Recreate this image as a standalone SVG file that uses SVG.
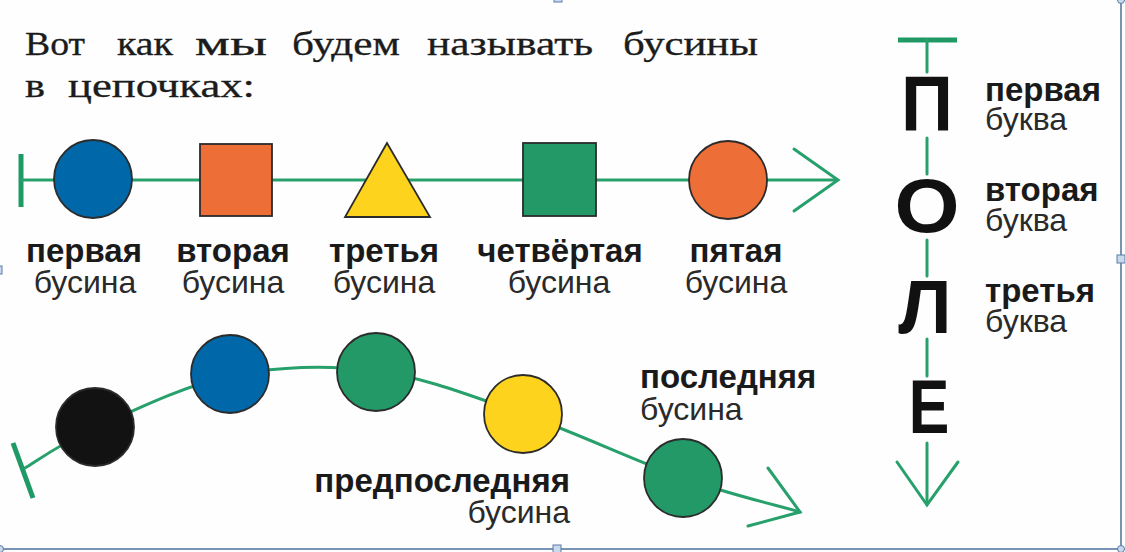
<svg xmlns="http://www.w3.org/2000/svg" width="1125" height="552" viewBox="0 0 1125 552">
<style>
.title{font-family:"Liberation Serif","Times New Roman",serif;font-size:33px;fill:#1c1c1c;stroke:#1c1c1c;stroke-width:0.3}
.b{font-family:"Liberation Sans",Arial,sans-serif;font-size:33px;font-weight:bold;fill:#1a1a1a}
.r{font-family:"Liberation Sans",Arial,sans-serif;font-size:32px;fill:#2a2a2a}
.big{font-family:"Liberation Sans",Arial,sans-serif;font-size:76px;font-weight:bold;fill:#111}
.ln{fill:none;stroke:#27a06c;stroke-width:3;stroke-linecap:round}
.tick{fill:none;stroke:#1f9a66;stroke-width:5}
.bead{stroke:#2b2b2b;stroke-width:1.8}
.frame{stroke:#4d6f9c;stroke-width:1.5;fill:none}
.hd{fill:#c9d8ea;stroke:#5a7aa5;stroke-width:1}
</style>
<rect width="1125" height="552" fill="#fefefe"/>

<g id="title">
<text class="title" x="25" y="55" textLength="60" lengthAdjust="spacingAndGlyphs">Вот</text>
<text class="title" x="117" y="55" textLength="56" lengthAdjust="spacingAndGlyphs">как</text>
<text class="title" x="195" y="55" textLength="72" lengthAdjust="spacingAndGlyphs">мы</text>
<text class="title" x="292" y="55" textLength="108" lengthAdjust="spacingAndGlyphs">будем</text>
<text class="title" x="427" y="55" textLength="166" lengthAdjust="spacingAndGlyphs">называть</text>
<text class="title" x="623" y="55" textLength="135" lengthAdjust="spacingAndGlyphs">бусины</text>
<text class="title" x="25" y="97" textLength="20" lengthAdjust="spacingAndGlyphs">в</text>
<text class="title" x="68" y="97" textLength="187" lengthAdjust="spacingAndGlyphs">цепочках:</text>
</g>

<g id="connectors">
<!-- top chain -->
<line class="tick" x1="21" y1="154" x2="21" y2="207"/>
<line class="ln" x1="21" y1="180" x2="837" y2="180"/>
<polyline class="ln" points="794,149 838,180 794,211"/>
<!-- bottom chain -->
<line class="tick" x1="13" y1="443" x2="33" y2="498"/>
<path class="ln" d="M25,468 C36.7,461 60.8,443.3 95,428 C129.2,412.7 183.2,385.5 230,376 C276.8,366.5 327.2,364.7 376,371 C424.8,377.3 471.8,396.2 523,414 C574.2,431.8 636.8,461.7 683,478 C729.2,494.3 780.5,506.3 800,512"/>
<polyline class="ln" points="768,468 800,512 748,526"/>
<!-- vertical word chain -->
<line class="tick" x1="898" y1="40" x2="957" y2="40"/>
<line class="ln" x1="927" y1="40" x2="927" y2="72"/>
<line class="ln" x1="927" y1="138" x2="927" y2="174"/>
<line class="ln" x1="927" y1="240" x2="927" y2="276"/>
<line class="ln" x1="927" y1="339" x2="927" y2="376"/>
<line class="ln" x1="927" y1="443" x2="927" y2="504"/>
<polyline class="ln" points="897,462 927,505 958,462"/>
</g>

<g id="bead1"><circle class="bead" cx="93" cy="179" r="39" fill="#0068a9"/></g>
<g id="bead2"><rect class="bead" x="200" y="144" width="72" height="72" fill="#ed6e36"/></g>
<g id="bead3"><polygon class="bead" points="387,143 345,217 430,217" fill="#fdd31d"/></g>
<g id="bead4"><rect class="bead" x="523" y="143" width="73" height="73" fill="#229967"/></g>
<g id="bead5"><circle class="bead" cx="728" cy="180" r="39" fill="#ed6e36"/></g>

<g id="label1"><text class="b" x="84" y="262" text-anchor="middle">первая</text><text class="r" x="85" y="293" text-anchor="middle">бусина</text></g>
<g id="label2"><text class="b" x="233" y="262" text-anchor="middle">вторая</text><text class="r" x="233" y="293" text-anchor="middle">бусина</text></g>
<g id="label3"><text class="b" x="384" y="262" text-anchor="middle">третья</text><text class="r" x="384" y="293" text-anchor="middle">бусина</text></g>
<g id="label4"><text class="b" x="560" y="262" text-anchor="middle">четвёртая</text><text class="r" x="559" y="293" text-anchor="middle">бусина</text></g>
<g id="label5"><text class="b" x="736" y="262" text-anchor="middle">пятая</text><text class="r" x="736" y="293" text-anchor="middle">бусина</text></g>

<g id="cbead1"><circle class="bead" cx="95" cy="427" r="39" fill="#121212"/></g>
<g id="cbead2"><circle class="bead" cx="230" cy="374" r="39" fill="#0068a9"/></g>
<g id="cbead3"><circle class="bead" cx="376" cy="372" r="39" fill="#229967"/></g>
<g id="cbead4"><circle class="bead" cx="523" cy="414" r="39" fill="#fdd31d"/></g>
<g id="cbead5"><circle class="bead" cx="683" cy="478" r="39" fill="#229967"/></g>

<g id="label-last"><text class="b" x="640" y="388">последняя</text><text class="r" x="640" y="420">бусина</text></g>
<g id="label-prelast"><text class="b" x="570" y="492" text-anchor="end">предпоследняя</text><text class="r" x="570" y="523" text-anchor="end">бусина</text></g>

<g id="letterP"><text class="big" x="0" y="0" text-anchor="middle" transform="translate(927,130) scale(0.95,1.03)">П</text></g>
<g id="letterO"><text class="big" x="0" y="0" text-anchor="middle" transform="translate(927,232) scale(1.1,1)">О</text></g>
<g id="letterL"><text class="big" x="0" y="0" text-anchor="middle" transform="translate(925,333) scale(1,1)">Л</text></g>
<g id="letterE"><text class="big" x="0" y="0" text-anchor="middle" transform="translate(929,433) scale(0.8,1)">Е</text></g>

<g id="rlabel1"><text class="b" x="985" y="101">первая</text><text class="r" x="985" y="130">буква</text></g>
<g id="rlabel2"><text class="b" x="985" y="201">вторая</text><text class="r" x="985" y="231">буква</text></g>
<g id="rlabel3"><text class="b" x="985" y="302">третья</text><text class="r" x="985" y="332">буква</text></g>

<g id="frame">
<line class="frame" x1="1121" y1="0" x2="1121" y2="549"/>
<line class="frame" x1="0" y1="549" x2="1121" y2="549"/>
<rect class="hd" x="554" y="-4" width="8" height="6"/>
<rect class="hd" x="1117" y="255" width="8" height="8"/>
<rect class="hd" x="-4" y="266" width="6" height="8"/>
<rect class="hd" x="553" y="545" width="8" height="8"/>
<circle class="hd" cx="1121" cy="0" r="3.5"/>
<circle class="hd" cx="1121" cy="549" r="3.5"/>
<circle class="hd" cx="0" cy="549" r="3.5"/>
</g>
</svg>
